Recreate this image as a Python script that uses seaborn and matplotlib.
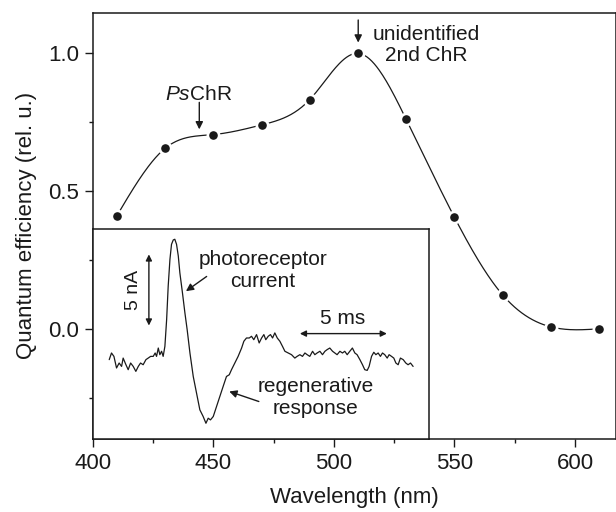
import numpy as np
import pandas as pd
import matplotlib
matplotlib.use("Agg")
import matplotlib.pyplot as plt
import seaborn as sns

# ---- data ----
wavelength = [410, 430, 450, 470, 490, 510, 530, 550, 570, 590, 610]
efficiency = [0.41, 0.655, 0.705, 0.74, 0.832, 1.0, 0.76, 0.405, 0.123, 0.007, 0.0]

x_ticks = [400, 450, 500, 550, 600]
y_ticks = [0.0, 0.5, 1.0]

# inset trace (time in ms, current in nA)
trace_t = [0.00, 0.13, 0.27, 0.42, 0.57, 0.71, 0.80, 0.96, 1.09, 1.23,
           1.38, 1.53, 1.67, 1.80, 1.95, 2.11, 2.24, 2.38, 2.53, 2.64,
           2.72, 2.82, 2.91, 3.01, 3.10, 3.20, 3.30, 3.39, 3.49, 3.58,
           3.68, 3.77, 3.87, 3.97, 4.06, 4.21, 4.35, 4.48, 4.64, 4.83,
           5.02, 5.21, 5.40, 5.56, 5.69, 5.82, 5.98, 6.17, 6.36, 6.55,
           6.74, 6.90, 7.03, 7.22, 7.41, 7.61, 7.74, 7.89, 8.05, 8.18,
           8.31, 8.47, 8.62, 8.76, 8.89, 9.00, 9.14, 9.27, 9.39, 9.52,
           9.66, 9.81, 9.96, 10.10, 10.29, 10.48, 10.67, 10.80, 10.96, 11.11,
           11.25, 11.38, 11.53, 11.69, 11.82, 11.95, 12.11, 12.26, 12.40, 12.53,
           12.68, 12.84, 12.97, 13.10, 13.26, 13.41, 13.54, 13.68, 13.83, 13.98,
           14.12, 14.25, 14.41, 14.56, 14.69, 14.83, 14.94, 15.08, 15.21, 15.33,
           15.46, 15.59, 15.71, 15.84, 15.98, 16.09, 16.23, 16.36, 16.48, 16.61,
           16.74, 16.90, 17.05, 17.18, 17.32, 17.47]
trace_i = [0.24, 0.71, 0.47, -0.35, 0.00, -0.24, 0.35, -0.12, -0.47, 0.00,
           -0.24, -0.59, -0.24, 0.00, -0.12, 0.24, 0.35, 0.47, 0.47, 0.71,
           0.47, 1.06, 0.59, 0.83, 0.47, 1.18, 3.07, 5.44, 7.33, 8.39,
           8.70, 8.75, 8.39, 7.57, 6.38, 4.96, 3.55, 2.36, 0.71, -0.95,
           -2.13, -3.31, -3.78, -4.26, -3.90, -4.02, -3.78, -3.07, -2.36, -1.65,
           -0.95, -0.83, -0.47, 0.00, 0.47, 1.06, 1.54, 1.77, 1.77, 1.89,
           1.65, 2.01, 1.42, 1.77, 2.01, 1.65, 1.89, 2.01, 1.77, 2.13,
           1.77, 1.54, 1.18, 0.83, 0.71, 0.59, 0.35, 0.47, 0.59, 0.47,
           0.71, 0.59, 0.47, 0.83, 0.59, 0.71, 0.83, 0.59, 0.83, 0.95,
           1.06, 0.83, 0.71, 0.59, 0.83, 0.71, 0.83, 0.59, 0.83, 1.06,
           0.71, 0.59, 0.24, -0.12, -0.47, -0.52, -0.24, 0.47, 0.76, 0.59,
           0.71, 0.47, 0.71, 0.59, 0.35, 0.59, 0.47, 0.35, 0.00, -0.12,
           0.35, 0.24, 0.00, -0.12, 0.00, -0.24]


def natural_spline(x, y, xs):
    x = np.asarray(x, float); y = np.asarray(y, float)
    n = len(x)
    h = np.diff(x)
    A = np.zeros((n, n)); b = np.zeros(n)
    A[0, 0] = 1; A[-1, -1] = 1
    for i in range(1, n - 1):
        A[i, i - 1] = h[i - 1]
        A[i, i] = 2 * (h[i - 1] + h[i])
        A[i, i + 1] = h[i]
        b[i] = 3 * ((y[i + 1] - y[i]) / h[i] - (y[i] - y[i - 1]) / h[i - 1])
    c = np.linalg.solve(A, b)
    out = np.empty_like(xs)
    for k, xv in enumerate(xs):
        i = min(max(np.searchsorted(x, xv) - 1, 0), n - 2)
        dx = xv - x[i]
        bi = (y[i + 1] - y[i]) / h[i] - h[i] * (2 * c[i] + c[i + 1]) / 3
        di = (c[i + 1] - c[i]) / (3 * h[i])
        out[k] = y[i] + bi * dx + c[i] * dx ** 2 + di * dx ** 3
    return out


sns.set_style("ticks")
plt.rcParams["font.family"] = ["Liberation Sans", "DejaVu Sans"]
plt.rcParams["mathtext.fontset"] = "custom"
plt.rcParams["mathtext.rm"] = "Liberation Sans"
plt.rcParams["mathtext.it"] = "Liberation Sans:italic"

ink = "#1a1a1a"
fig = plt.figure(figsize=(6.16, 5.12), dpi=100)
ax = fig.add_axes([0.1505, 0.1426, 0.8495, 0.8326])

xs = np.linspace(wavelength[0], wavelength[-1], 400)
curve = pd.DataFrame({"wl": xs, "qe": natural_spline(wavelength, efficiency, xs)})
sns.lineplot(data=curve, x="wl", y="qe", ax=ax, color=ink, lw=0.9, zorder=2)
pts = pd.DataFrame({"wl": wavelength, "qe": efficiency})
sns.scatterplot(data=pts, x="wl", y="qe", ax=ax, color=ink, s=66,
                edgecolor="white", linewidth=1.9, zorder=3)

ax.set_xlim(400, 617)
ax.set_ylim(-0.4, 1.1475)
ax.set_xticks(x_ticks)
ax.set_yticks(y_ticks)
ax.set_yticklabels([f"{v:.1f}" for v in y_ticks])
ax.set_xticks([425, 475, 525, 575], minor=True)
ax.set_yticks([-0.25, 0.25, 0.75], minor=True)
ax.tick_params(which="major", length=5.8, width=1.0, direction="out",
               labelsize=16, pad=4, colors=ink)
ax.tick_params(which="minor", length=3, width=1.0, direction="out", colors=ink)
for s in ax.spines.values():
    s.set_linewidth(1.1)
    s.set_color(ink)
ax.set_xlabel("Wavelength (nm)", fontsize=16, color=ink, labelpad=10)
ax.set_ylabel("Quantum efficiency (rel. u.)", fontsize=16, color=ink, labelpad=8)

arrow_kw = dict(arrowstyle="-|>", color=ink, lw=1.0, mutation_scale=11,
                shrinkA=0, shrinkB=0)
ax.text(443.9, 0.852, r"$\mathit{Ps}$ChR", fontsize=15, color=ink,
        ha="center", va="center")
ax.annotate("", xy=(444.2, 0.724), xytext=(444.2, 0.822), arrowprops=arrow_kw)
ax.text(538.2, 1.03, "unidentified\n2nd ChR", fontsize=15, color=ink,
        ha="center", va="center", linespacing=1.15)
ax.annotate("", xy=(510.1, 1.039), xytext=(510.1, 1.121), arrowprops=arrow_kw)

# inset
axin = ax.inset_axes([400, -0.4, 139.5, 0.761], transform=ax.transData)
axin.set_facecolor("white")
tr = pd.DataFrame({"t": trace_t, "i": trace_i})
sns.lineplot(data=tr, x="t", y="i", ax=axin, color=ink, lw=0.9)
axin.set_xlim(-0.95, 18.39)
axin.set_ylim(-5.37, 9.45)
axin.set_xticks([]); axin.set_yticks([])
axin.set_xlabel(""); axin.set_ylabel("")
for s in axin.spines.values():
    s.set_linewidth(1.1)
    s.set_color(ink)

dbl = dict(arrowstyle="<|-|>", color=ink, lw=1.0, mutation_scale=9,
           shrinkA=0, shrinkB=0)
axin.annotate("", xy=(2.28, 2.65), xytext=(2.28, 7.68), arrowprops=dbl)
axin.text(1.38, 5.2, "5 nA", rotation=90, fontsize=14, color=ink,
          ha="center", va="center")
axin.annotate("", xy=(10.96, 2.08), xytext=(15.96, 2.08), arrowprops=dbl)
axin.text(13.43, 3.14, "5 ms", fontsize=15, color=ink, ha="center", va="center")
axin.text(8.83, 6.55, "photoreceptor\ncurrent", fontsize=15, color=ink,
          ha="center", va="center", linespacing=1.15)
axin.annotate("", xy=(4.41, 5.08), xytext=(5.60, 6.12), arrowprops=arrow_kw)
axin.text(11.85, -2.43, "regenerative\nresponse", fontsize=15, color=ink,
          ha="center", va="center", linespacing=1.15)
axin.annotate("", xy=(6.90, -2.01), xytext=(8.60, -2.72), arrowprops=arrow_kw)

fig.savefig("out.png", dpi=100)
